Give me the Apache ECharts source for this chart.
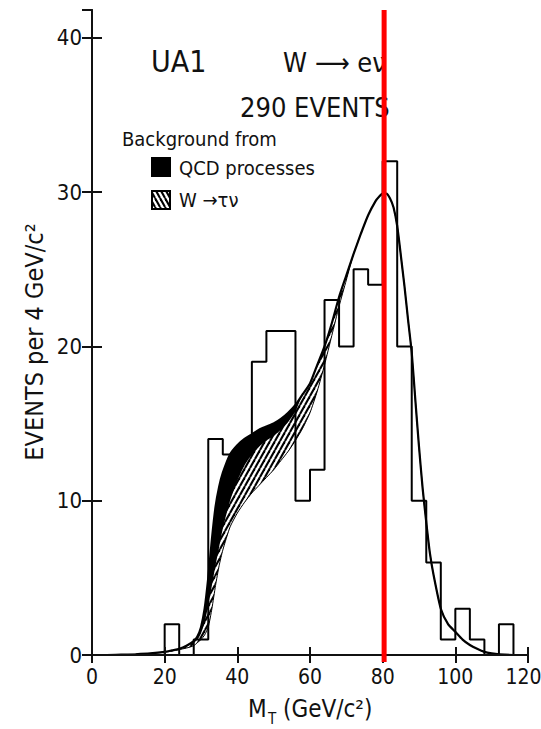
<!DOCTYPE html>
<html>
<head>
<meta charset="utf-8">
<script src="https://cdn.jsdelivr.net/npm/echarts@6/dist/echarts.min.js"></script>
<style>
html,body{margin:0;padding:0;background:#fff;overflow:hidden;}
#chart{width:541px;height:729px;}
</style>
</head>
<body>
<div id="chart"></div>
<script>
// ---- data ----
// histogram: lower edge of each 4 GeV bin and its event count
const binStarts = [0,4,8,12,16,20,24,28,32,36,40,44,48,52,56,60,64,68,72,76,80,84,88,92,96,100,104,108,112,116];
const binCounts = [0,0,0,0,0,2,0,1,14,13,13,19,21,21,10,12,23,20,25,24,32,20,10,6,1,3,1,0,2,0];
const histEnd = 120;

// expectation curves (M_T in GeV/c^2)
const curveX = [0,4,8,12,16,20,22,24,26,28,29,30,31,32,33,34,35,36,38,40,42,44,46,48,50,52,54,56,58,60,62,64,66,68,70,72,74,76,78,79,80,81,82,83,84,85,86,87,88,89,90,91,92,93,94,96,98,100,102,104,106,108,110,112,116,120];
// total expectation (W -> e nu + backgrounds)
const curveTotal = [0,0,0.02,0.05,0.1,0.2, 0.3,0.4,0.6,0.9, 1.2,1.8,3.0,5.0,7.5,9.6,10.9,11.8,
  13.0,13.6,14.0,14.3,14.6,14.8,15.0,15.3,15.7,16.2,16.9,17.6,18.8,20.0,21.5,23.2,24.6,26.0,27.3,28.5,29.4,
  29.7,29.9,29.9,29.6,29.0,27.8,25.9,23.9,21.7,19.6,16.5,13.5,10.8,8.6,6.6,5.2,
  3.0,2.0,1.5,1.0,0.65,0.4,0.2,0.1,0.04,0,0];
// W -> e nu + W -> tau nu (lower edge of the QCD band)
const curveWithTau = [0,0,0.02,0.05,0.1,0.2, 0.3,0.4,0.55,0.8, 1.0,1.4,2.1,3.2,4.5,5.8,7.0,8.2,
  10.0,11.3,12.3,13.0,13.5,13.9,14.2,14.6,15.1,15.8,16.9,17.6,18.8,20.0,21.5,23.2,24.6,26.0,27.3,28.5,29.4,
  29.7,29.9,29.9,29.6,29.0,27.8,25.9,23.9,21.7,19.6,16.5,13.5,10.8,8.6,6.6,5.2,
  3.0,2.0,1.5,1.0,0.65,0.4,0.2,0.1,0.04,0,0];
// W -> e nu alone (lower edge of the W -> tau nu band)
const curveSignal = [0,0,0.02,0.05,0.1,0.18, 0.25,0.35,0.45,0.6, 0.8,1.0,1.3,1.8,3.0,4.5,5.8,6.8,
  8.3,9.2,9.9,10.5,11.0,11.5,12.0,12.6,13.2,13.9,14.7,15.7,17.1,18.8,20.7,22.6,24.3,26.0,27.3,28.5,29.4,
  29.7,29.9,29.9,29.6,29.0,27.8,25.9,23.9,21.7,19.6,16.5,13.5,10.8,8.6,6.6,5.2,
  3.0,2.0,1.5,1.0,0.65,0.4,0.2,0.1,0.04,0,0];

const wMass = 80.4;
const xMin = 0, xMax = 120, xStep = 20;
const yMin = 0, yMax = 41.8, yStep = 10;

const FONT = '"DejaVu Sans Condensed","Liberation Sans Narrow","DejaVu Sans",sans-serif';
const TICKFONT = '"Liberation Sans Narrow","DejaVu Sans Condensed",sans-serif';
const INK = '#111';

function hatchURL(forward) {
  const c = document.createElement('canvas');
  c.width = 5; c.height = 9;
  const g = c.getContext('2d');
  g.fillStyle = '#fff'; g.fillRect(0, 0, 5, 9);
  g.strokeStyle = '#000'; g.lineWidth = 2.1;
  for (const o of [-5, 0, 5]) {
    g.beginPath();
    if (forward) { g.moveTo(o, 9); g.lineTo(o + 5, 0); }
    else { g.moveTo(o, 0); g.lineTo(o + 5, 9); }
    g.stroke();
  }
  return c.toDataURL();
}
const bandPattern = {image: hatchURL(true), repeat: 'repeat', imageWidth: 5, imageHeight: 9};
const keyPattern = {image: hatchURL(false), repeat: 'repeat', imageWidth: 5, imageHeight: 9};

const totalPts = curveX.map((x, i) => [x, curveTotal[i]]);
const tauPts = curveX.map((x, i) => [x, curveWithTau[i]]);
const signalPts = curveX.map((x, i) => [x, curveSignal[i]]);
const histPts = binStarts.map((x, i) => [x, binCounts[i]]).concat([[histEnd, 0]]);

const axisLine = {show: true, lineStyle: {color: INK, width: 2}};
const tickIn = len => ({show: true, inside: true, length: len, lineStyle: {color: INK, width: 2}});
const SM = 0.2;

const chart = echarts.init(document.getElementById('chart'), null, {renderer: 'svg'});
chart.setOption({
  animation: false,
  backgroundColor: '#fff',
  grid: {left: 92, right: 13, top: 10, bottom: 74, containLabel: false, outerBoundsMode: 'none'},
  xAxis: [
    {type: 'value', position: 'bottom', min: xMin, max: xMax, interval: xStep, z: 10,
     axisLine: axisLine, axisTick: tickIn(8), splitLine: {show: false},
     axisLabel: {color: INK, fontSize: 21, fontFamily: TICKFONT, margin: 11,
                 formatter: v => (v === xMax ? '{e|' + v + '}' : String(v)),
                 rich: {e: {fontSize: 21, fontFamily: TICKFONT, color: INK, padding: [0, 9, 0, 0]}}}},
    {type: 'value', position: 'top', min: xMin, max: xMax, interval: xStep, z: 10,
     axisLine: axisLine, axisTick: tickIn(8), splitLine: {show: false},
     axisLabel: {show: false}}
  ],
  yAxis: [
    {type: 'value', position: 'left', min: yMin, max: yMax, interval: yStep, z: 10,
     axisLine: axisLine, axisTick: tickIn(10), splitLine: {show: false},
     axisLabel: {color: INK, fontSize: 22, fontFamily: TICKFONT, margin: 10, showMaxLabel: false,
                 formatter: v => (v % yStep === 0 ? String(v) : '')}},
    {type: 'value', position: 'right', min: yMin, max: yMax, interval: yStep, z: 10,
     axisLine: axisLine, axisTick: tickIn(10), splitLine: {show: false},
     axisLabel: {show: false}}
  ],
  series: [
    {type: 'line', name: 'QCD processes', data: totalPts, showSymbol: false, smooth: SM,
     lineStyle: {width: 0}, areaStyle: {color: '#000', opacity: 1}, z: 2},
    {type: 'line', name: 'W → τν', data: tauPts, showSymbol: false, smooth: SM,
     lineStyle: {width: 0}, areaStyle: {color: bandPattern, opacity: 1}, z: 3},
    {type: 'line', name: 'W → eν', data: signalPts, showSymbol: false, smooth: SM,
     lineStyle: {color: '#000', width: 1}, areaStyle: {color: '#fff', opacity: 1}, z: 4},
    {type: 'line', name: 'total', data: totalPts, showSymbol: false, smooth: SM,
     lineStyle: {color: '#000', width: 2.2}, z: 5},
    {type: 'line', name: '290 EVENTS', data: histPts, step: 'end', showSymbol: false,
     lineStyle: {color: '#000', width: 2}, z: 6},
    {type: 'line', name: 'M_W', data: [[wMass, -0.45], [wMass, yMax]], showSymbol: false, clip: false,
     lineStyle: {color: '#ff0000', width: 5}, z: 12}
  ],
  graphic: [
    {type: 'text', x: 151, y: 61, style: {text: 'UA1', fontSize: 30, fontFamily: FONT, fill: INK, verticalAlign: 'middle'}},
    {type: 'text', x: 283, y: 62, style: {text: 'W ⟶ eν', fontSize: 27, fontFamily: FONT, fill: INK, verticalAlign: 'middle'}},
    {type: 'text', x: 240, y: 107, style: {text: '290 EVENTS', fontSize: 27, fontFamily: FONT, fill: INK, verticalAlign: 'middle'}},
    {type: 'text', x: 122, y: 139, style: {text: 'Background from', fontSize: 20, fontFamily: FONT, fill: INK, verticalAlign: 'middle'}},
    {type: 'rect', shape: {x: 151, y: 157, width: 20, height: 20}, style: {fill: '#000'}},
    {type: 'text', x: 179, y: 168, style: {text: 'QCD processes', fontSize: 20, fontFamily: FONT, fill: INK, verticalAlign: 'middle'}},
    {type: 'rect', shape: {x: 152, y: 191, width: 18, height: 18}, style: {fill: keyPattern, stroke: '#000', lineWidth: 2}},
    {type: 'text', x: 179, y: 200, style: {text: 'W →τν', fontSize: 20, fontFamily: FONT, fill: INK, verticalAlign: 'middle'}},
    {type: 'text', x: 34, y: 342, rotation: Math.PI / 2,
     style: {text: 'EVENTS per 4 GeV/c²', fontSize: 25, fontFamily: FONT, fill: INK, align: 'center', verticalAlign: 'middle'}},
    {type: 'text', x: 248, y: 709, style: {text: 'M', fontSize: 24, fontFamily: FONT, fill: INK, verticalAlign: 'middle'}},
    {type: 'text', x: 268, y: 719, style: {text: 'T', fontSize: 15, fontFamily: FONT, fill: INK, verticalAlign: 'middle'}},
    {type: 'text', x: 283, y: 709, style: {text: '(GeV/c²)', fontSize: 24, fontFamily: FONT, fill: INK, verticalAlign: 'middle'}}
  ]
});
</script>
</body>
</html>
